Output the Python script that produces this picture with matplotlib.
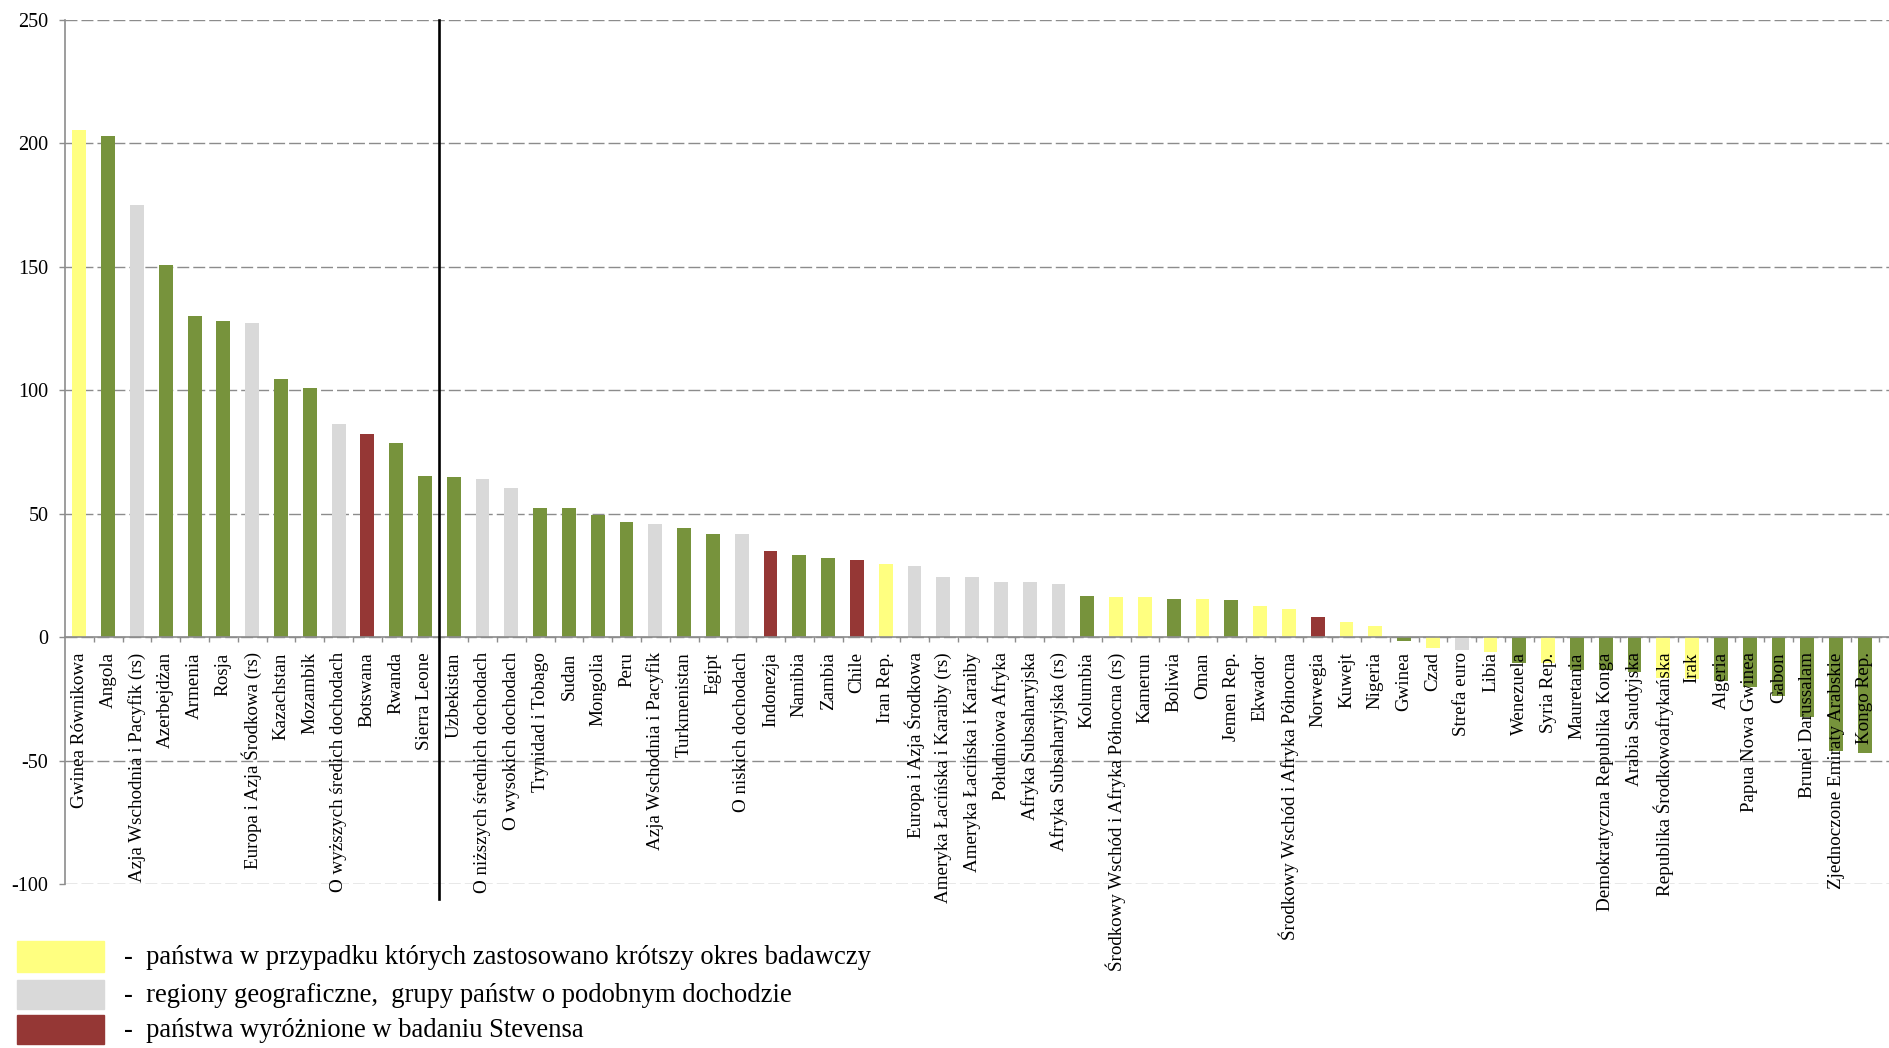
import matplotlib
matplotlib.use('Agg')
import matplotlib.pyplot as plt
import matplotlib.patches as mpatches
import matplotlib.transforms as mtransforms

plt.rcParams['font.family'] = ['Liberation Serif', 'DejaVu Serif']
plt.rcParams['axes.unicode_minus'] = False

# kategorie (kolejność jak na wykresie)
labels = [
    'Gwinea Równikowa', 'Angola', 'Azja Wschodnia i Pacyfik (rs)', 'Azerbejdżan',
    'Armenia', 'Rosja', 'Europa i Azja Środkowa (rs)', 'Kazachstan', 'Mozambik',
    'O wyższych średich dochodach', 'Botswana', 'Rwanda', 'Sierra Leone',
    'Uzbekistan', 'O niższych średnich dochodach', 'O wysokich dochodach',
    'Trynidad i Tobago', 'Sudan', 'Mongolia', 'Peru', 'Azja Wschodnia i Pacyfik',
    'Turkmenistan', 'Egipt', 'O niskich dochodach', 'Indonezja', 'Namibia',
    'Zambia', 'Chile', 'Iran Rep.', 'Europa i Azja Środkowa',
    'Ameryka Łacińska i Karaiby (rs)', 'Ameryka Łacińska i Karaiby',
    'Południowa Afryka', 'Afryka Subsaharyjska', 'Afryka Subsaharyjska (rs)',
    'Kolumbia', 'Środkowy Wschód i Afryka Północna (rs)', 'Kamerun', 'Boliwia',
    'Oman', 'Jemen Rep.', 'Ekwador', 'Środkowy Wschód i Afryka Północna',
    'Norwegia', 'Kuwejt', 'Nigeria', 'Gwinea', 'Czad', 'Strefa euro', 'Libia',
    'Wenezuela', 'Syria Rep.', 'Mauretania', 'Demokratyczna Republika Konga',
    'Arabia Saudyjska', 'Republika Środkowoafrykańska', 'Irak', 'Algeria',
    'Papua Nowa Gwinea', 'Gabon', 'Brunei Darussalam',
    'Zjednoczone Emiraty Arabskie', 'Kongo Rep.',
]

values = [
    205.4, 203.0, 175.0, 150.7, 130.3, 128.0, 127.1, 104.5, 100.9, 86.6, 82.2,
    78.9, 65.5, 65.1, 64.3, 60.3, 52.2, 52.2, 49.7, 46.9, 46.1, 44.1, 42.0, 42.0,
    35.1, 33.5, 32.3, 31.5, 29.9, 29.0, 24.6, 24.6, 22.6, 22.6, 21.8, 16.9, 16.5,
    16.5, 15.7, 15.7, 15.3, 12.8, 11.6, 8.1, 6.4, 4.7, -1.3, -4.4, -5.0, -6.1,
    -10.4, -10.2, -13.1, -13.1, -13.9, -16.5, -17.0, -17.6, -20.3, -23.9, -32.4,
    -46.2, -47.0,
]

# g = państwo, y = krótszy okres, s = region/grupa, r = wyróżnione u Stevensa
groups = [
    'y', 'g', 's', 'g', 'g', 'g', 's', 'g', 'g', 's', 'r', 'g', 'g',
    'g', 's', 's', 'g', 'g', 'g', 'g', 's', 'g', 'g', 's', 'r', 'g',
    'g', 'r', 'y', 's', 's', 's', 's', 's', 's', 'g', 'y', 'y', 'g',
    'y', 'g', 'y', 'y', 'r', 'y', 'y', 'g', 'y', 's', 'y', 'g', 'y',
    'g', 'g', 'g', 'y', 'y', 'g', 'g', 'g', 'g', 'g', 'g',
]

legend_texts = [
    '-  państwa w przypadku których zastosowano krótszy okres badawczy',
    '-  regiony geograficzne,  grupy państw o podobnym dochodzie',
    '-  państwa wyróżnione w badaniu Stevensa',
]

colors = {'g': '#77933C', 'y': '#FFFF80', 's': '#D9D9D9', 'r': '#953735'}

W, H = 1890, 1048
fig = plt.figure(figsize=(W / 100, H / 100), dpi=100)
ax = fig.add_axes([65 / W, 1 - 884.3 / H, 1 - 65 / W, (884.3 - 20) / H])

x = list(range(len(labels)))
ax.bar(x, values, width=0.48, color=[colors[g] for g in groups], zorder=3)

ax.set_ylim(-100, 250)
ax.set_xlim(-0.5, 62.87)
ax.set_yticks(range(-100, 251, 50))
ax.yaxis.grid(True, color='#8c8c8c', linestyle=(0, (8.6, 2.9)), linewidth=1.0)
ax.set_axisbelow(True)

for s in ['top', 'right']:
    ax.spines[s].set_visible(False)
ax.spines['bottom'].set_position(('data', 0))
ax.spines['bottom'].set_color('#8c8c8c')
ax.spines['bottom'].set_linewidth(1.2)
ax.spines['bottom'].set_zorder(4)
ax.spines['left'].set_color('#8c8c8c')
ax.spines['left'].set_linewidth(1.2)

# etykiety kategorii jako tekst nad słupkami
ax.set_xticks(x)
ax.set_xticklabels([])
ax.tick_params(axis='x', which='major', length=0)
ax.set_xticks([i + 0.5 for i in range(len(labels))], minor=True)
ax.tick_params(axis='x', which='minor', length=3.5, color='#8c8c8c', width=1)
ax.tick_params(axis='y', length=4, color='#8c8c8c', width=1, pad=8, labelsize=14.5)

off = mtransforms.ScaledTranslation(0, -15 / 100, fig.dpi_scale_trans)
for i, lab in enumerate(labels):
    ax.text(i, 0, lab, rotation=90, ha='center', va='top', fontsize=13.7,
            transform=ax.transData + off, zorder=6, clip_on=False)

# linia oddzielająca
ax.plot([12.5, 12.5], [-106, 250], color='black', lw=1.9, clip_on=False, zorder=5)

# legenda
rects = [(941, 972), (980, 1009), (1015, 1044)]
for (y0, y1), g, txt in zip(rects, ['y', 's', 'r'], legend_texts):
    fig.patches.append(mpatches.Rectangle((17 / W, 1 - y1 / H), 87 / W, (y1 - y0) / H,
                                          transform=fig.transFigure,
                                          color=colors[g]))
    fig.text(124 / W, 1 - ((y0 + y1) / 2 + 1) / H, txt, fontsize=19.2,
             va='center', ha='left')

fig.savefig('out.png', dpi=100)
